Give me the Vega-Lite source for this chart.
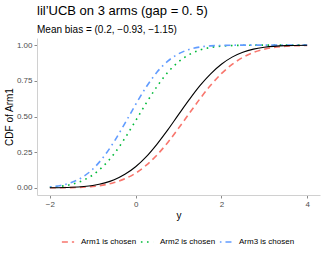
{
  "$schema": "https://vega.github.io/schema/vega-lite/v6.json",
  "autosize": "none",
  "width": 283,
  "height": 157,
  "padding": {"left": 37, "top": 38, "right": 5, "bottom": 65},
  "background": "white",
  "config": {
    "font": "Liberation Sans",
    "view": {"stroke": null},
    "axis": {"grid": false, "domainColor": "#d0d0d0", "tickColor": "#8a8a8a", "tickSize": 3, "labelColor": "#4d4d4d", "labelFontSize": 8, "titleFontSize": 10, "titleFontWeight": "normal", "titleColor": "#000000", "labelPadding": 2},
    "axisY": {"labelOverlap": false, "labelFlush": false, "labelBound": false}
  },
  "title": {
    "text": "lil’UCB on 3 arms (gap = 0. 5)",
    "subtitle": "Mean bias = (0.2, −0.93, −1.15)",
    "anchor": "start",
    "frame": "group",
    "fontSize": 13,
    "fontWeight": "normal",
    "subtitleFontSize": 10,
    "subtitleColor": "#000000",
    "subtitlePadding": 7,
    "offset": 3
  },
  "datasets": {
    "truth": [
      {"y": -2, "cdf": 0.0007}, {"y": -1.5, "cdf": 0.004}, {"y": -1, "cdf": 0.017}, {"y": -0.5, "cdf": 0.057},
      {"y": -0.25, "cdf": 0.095}, {"y": 0, "cdf": 0.148}, {"y": 0.25, "cdf": 0.219}, {"y": 0.5, "cdf": 0.307},
      {"y": 0.75, "cdf": 0.406}, {"y": 1, "cdf": 0.513}, {"y": 1.25, "cdf": 0.618}, {"y": 1.5, "cdf": 0.716},
      {"y": 1.75, "cdf": 0.799}, {"y": 2, "cdf": 0.866}, {"y": 2.25, "cdf": 0.916}, {"y": 2.5, "cdf": 0.95},
      {"y": 2.75, "cdf": 0.972}, {"y": 3, "cdf": 0.985}, {"y": 3.5, "cdf": 0.9967}, {"y": 4, "cdf": 0.9994}
    ],
    "arms": [
      {"arm": "Arm1 is chosen", "y": -2, "cdf": 0.0004}, {"arm": "Arm1 is chosen", "y": -1.5, "cdf": 0.002},
      {"arm": "Arm1 is chosen", "y": -1, "cdf": 0.01}, {"arm": "Arm1 is chosen", "y": -0.5, "cdf": 0.037},
      {"arm": "Arm1 is chosen", "y": -0.25, "cdf": 0.064}, {"arm": "Arm1 is chosen", "y": 0, "cdf": 0.103},
      {"arm": "Arm1 is chosen", "y": 0.25, "cdf": 0.159}, {"arm": "Arm1 is chosen", "y": 0.5, "cdf": 0.231},
      {"arm": "Arm1 is chosen", "y": 0.75, "cdf": 0.318}, {"arm": "Arm1 is chosen", "y": 1, "cdf": 0.417},
      {"arm": "Arm1 is chosen", "y": 1.25, "cdf": 0.521}, {"arm": "Arm1 is chosen", "y": 1.5, "cdf": 0.624},
      {"arm": "Arm1 is chosen", "y": 1.75, "cdf": 0.719}, {"arm": "Arm1 is chosen", "y": 2, "cdf": 0.8},
      {"arm": "Arm1 is chosen", "y": 2.25, "cdf": 0.865}, {"arm": "Arm1 is chosen", "y": 2.5, "cdf": 0.914},
      {"arm": "Arm1 is chosen", "y": 2.75, "cdf": 0.949}, {"arm": "Arm1 is chosen", "y": 3, "cdf": 0.971},
      {"arm": "Arm1 is chosen", "y": 3.5, "cdf": 0.992}, {"arm": "Arm1 is chosen", "y": 4, "cdf": 0.998},

      {"arm": "Arm2 is chosen", "y": -2, "cdf": 0.0045}, {"arm": "Arm2 is chosen", "y": -1.75, "cdf": 0.011},
      {"arm": "Arm2 is chosen", "y": -1.5, "cdf": 0.024}, {"arm": "Arm2 is chosen", "y": -1.25, "cdf": 0.049},
      {"arm": "Arm2 is chosen", "y": -1, "cdf": 0.09}, {"arm": "Arm2 is chosen", "y": -0.75, "cdf": 0.153},
      {"arm": "Arm2 is chosen", "y": -0.5, "cdf": 0.239}, {"arm": "Arm2 is chosen", "y": -0.25, "cdf": 0.348},
      {"arm": "Arm2 is chosen", "y": 0, "cdf": 0.47}, {"arm": "Arm2 is chosen", "y": 0.25, "cdf": 0.595},
      {"arm": "Arm2 is chosen", "y": 0.5, "cdf": 0.711}, {"arm": "Arm2 is chosen", "y": 0.75, "cdf": 0.809},
      {"arm": "Arm2 is chosen", "y": 1, "cdf": 0.883}, {"arm": "Arm2 is chosen", "y": 1.25, "cdf": 0.934},
      {"arm": "Arm2 is chosen", "y": 1.5, "cdf": 0.966}, {"arm": "Arm2 is chosen", "y": 1.75, "cdf": 0.984},
      {"arm": "Arm2 is chosen", "y": 2, "cdf": 0.993}, {"arm": "Arm2 is chosen", "y": 2.5, "cdf": 0.999},
      {"arm": "Arm2 is chosen", "y": 3, "cdf": 1.0}, {"arm": "Arm2 is chosen", "y": 4, "cdf": 1.0},

      {"arm": "Arm3 is chosen", "y": -2, "cdf": 0.007}, {"arm": "Arm3 is chosen", "y": -1.75, "cdf": 0.017},
      {"arm": "Arm3 is chosen", "y": -1.5, "cdf": 0.037}, {"arm": "Arm3 is chosen", "y": -1.25, "cdf": 0.073},
      {"arm": "Arm3 is chosen", "y": -1, "cdf": 0.131}, {"arm": "Arm3 is chosen", "y": -0.75, "cdf": 0.216},
      {"arm": "Arm3 is chosen", "y": -0.5, "cdf": 0.325}, {"arm": "Arm3 is chosen", "y": -0.25, "cdf": 0.452},
      {"arm": "Arm3 is chosen", "y": 0, "cdf": 0.584}, {"arm": "Arm3 is chosen", "y": 0.25, "cdf": 0.708},
      {"arm": "Arm3 is chosen", "y": 0.5, "cdf": 0.811}, {"arm": "Arm3 is chosen", "y": 0.75, "cdf": 0.888},
      {"arm": "Arm3 is chosen", "y": 1, "cdf": 0.939}, {"arm": "Arm3 is chosen", "y": 1.25, "cdf": 0.97},
      {"arm": "Arm3 is chosen", "y": 1.5, "cdf": 0.987}, {"arm": "Arm3 is chosen", "y": 1.75, "cdf": 0.995},
      {"arm": "Arm3 is chosen", "y": 2, "cdf": 0.998}, {"arm": "Arm3 is chosen", "y": 2.5, "cdf": 1.0},
      {"arm": "Arm3 is chosen", "y": 3, "cdf": 1.0}, {"arm": "Arm3 is chosen", "y": 4, "cdf": 1.0}
    ]
  },
  "encoding": {
    "x": {"field": "y", "type": "quantitative", "scale": {"domain": [-2.3, 4.3], "nice": false, "zero": false},
          "axis": {"values": [-2, 0, 2, 4], "format": "d", "title": "y", "labelExpr": "replace(datum.label, '-', '−')", "titlePadding": 2}},
    "y": {"field": "cdf", "type": "quantitative", "scale": {"domain": [-0.05, 1.05], "nice": false},
          "axis": {"values": [0, 0.25, 0.5, 0.75, 1], "tickCount": 5, "labelExpr": "format(datum.value, '.2f')", "labelOverlap": false, "title": "CDF of Arm1", "titlePadding": 2}}
  },
  "layer": [
    {
      "data": {"name": "arms"},
      "mark": {"type": "line", "strokeWidth": 1.6, "interpolate": "monotone"},
      "encoding": {
        "color": {"field": "arm", "type": "nominal", "title": null,
                  "scale": {"domain": ["Arm1 is chosen", "Arm2 is chosen", "Arm3 is chosen"], "range": ["#F8766D", "#00BA38", "#619CFF"]},
                  "legend": {"orient": "none", "direction": "horizontal", "legendX": 24, "legendY": 197, "symbolType": "stroke", "symbolSize": 150, "symbolStrokeWidth": 1.6, "labelFontSize": 8, "labelColor": "#000000", "columnPadding": 0, "labelOffset": 6}},
        "strokeDash": {"field": "arm", "type": "nominal", "title": null,
                       "scale": {"domain": ["Arm1 is chosen", "Arm2 is chosen", "Arm3 is chosen"], "range": [[6, 4], [1.6, 4.5], [1.6, 4, 6, 4]]},
                       "legend": {"orient": "none", "direction": "horizontal", "legendX": 24, "legendY": 197, "symbolType": "stroke", "symbolSize": 150, "symbolStrokeWidth": 1.6, "labelFontSize": 8, "labelColor": "#000000", "columnPadding": 0, "labelOffset": 6}}
      }
    },
    {
      "data": {"name": "truth"},
      "mark": {"type": "line", "color": "#000000", "strokeWidth": 1.1, "interpolate": "monotone"}
    }
  ]
}
